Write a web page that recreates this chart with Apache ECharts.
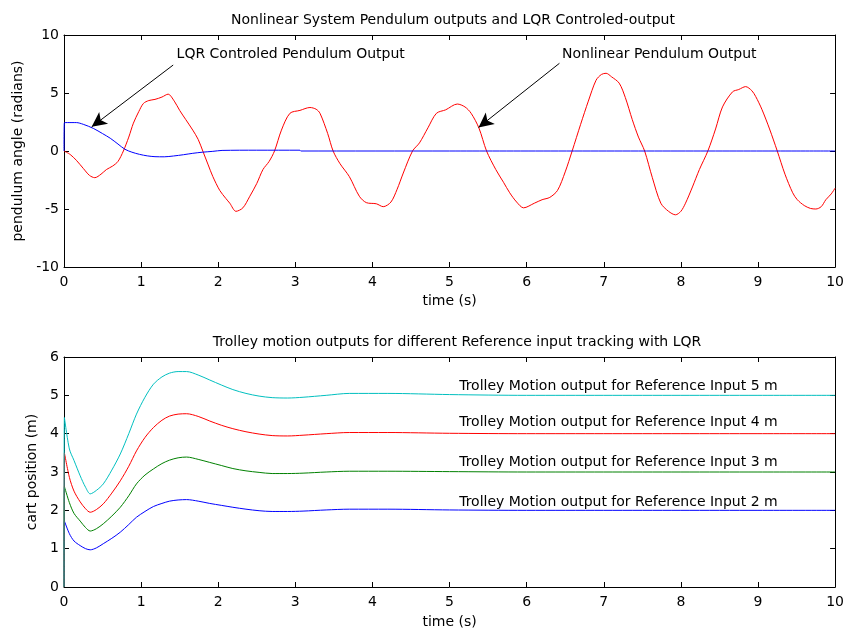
<!DOCTYPE html>
<html>
<head>
<meta charset="utf-8">
<script src="https://cdn.jsdelivr.net/npm/echarts@6/dist/echarts.min.js"></script>
<style>
html,body{margin:0;padding:0;background:#fff;}
#chart{width:847px;height:633px;}
</style>
</head>
<body>
<div id="chart"></div>
<script>
// top plot: nonlinear pendulum (red) and LQR controlled pendulum (blue)
var pendTime = [0,0.08,0.16,0.25,0.33,0.40,0.48,0.55,0.63,0.70,0.77,0.84,0.90,0.97,1.03,1.10,1.18,1.27,1.35,1.43,
	1.50,1.58,1.67,1.74,1.80,1.87,1.93,2.02,2.10,2.15,2.23,2.32,2.41,2.50,2.58,2.66,2.73,2.82,2.93,3.06,
	3.19,3.27,3.32,3.42,3.49,3.58,3.70,3.83,3.92,4.05,4.14,4.24,4.32,4.40,4.52,4.61,4.72,4.83,4.95,5.10,
	5.20,5.28,5.38,5.48,5.60,5.70,5.78,5.87,5.96,6.10,6.20,6.30,6.40,6.50,6.59,6.70,6.80,6.90,6.97,7.03,
	7.10,7.20,7.28,7.37,7.45,7.53,7.63,7.74,7.84,7.93,8.00,8.06,8.15,8.24,8.35,8.45,8.54,8.67,8.75,8.84,
	8.92,8.97,9.05,9.15,9.25,9.35,9.45,9.51,9.60,9.68,9.75,9.82,9.88,9.95,10];
var nonlinearOut = [0,-0.3,-0.8,-1.5,-2.1,-2.3,-2.0,-1.6,-1.3,-0.9,0,1.2,2.4,3.4,4.1,4.35,4.45,4.65,4.9,4.3,
	3.5,2.7,1.8,1.0,0,-1.2,-2.2,-3.4,-4.1,-4.5,-5.2,-4.9,-3.9,-2.8,-1.6,-0.9,0,1.8,3.25,3.5,
	3.75,3.6,3.25,1.5,0,-1.1,-2.2,-3.9,-4.45,-4.55,-4.8,-4.4,-3.3,-1.9,0,0.7,2.0,3.25,3.55,4.05,
	3.8,3.25,2.0,0,-1.6,-2.7,-3.6,-4.4,-4.9,-4.5,-4.2,-4.0,-3.4,-1.8,0,2.3,4.3,6.1,6.6,6.7,
	6.4,5.85,4.6,2.7,1.2,0,-2.3,-4.5,-5.2,-5.5,-5.2,-4.5,-3.1,-1.6,0,1.9,3.8,5.1,5.3,5.55,
	5.2,4.7,3.6,1.9,0,-2.0,-3.6,-4.2,-4.7,-4.95,-5.0,-4.8,-4.2,-3.7,-3.2];
var lqrTime = [0,0.005,0.16,0.25,0.38,0.50,0.60,0.70,0.79,0.88,0.98,1.08,1.18,1.30,1.42,1.55,1.67,1.80,1.93,2.05,2.50,3.06,3.07,5,10];
var lqrOut  = [0,2.45,2.45,2.3,1.95,1.5,1.1,0.6,0.15,-0.1,-0.29,-0.42,-0.49,-0.5,-0.43,-0.32,-0.2,-0.1,-0.03,0.05,0.07,0.07,0,0,0];

// bottom plot: trolley position for reference inputs 2..5 m
var cartTime = [0,0.005,0.07,0.13,0.21,0.28,0.34,0.42,0.51,0.62,0.73,0.84,0.94,1.05,1.16,1.27,1.37,1.48,1.59,1.74,
	1.89,2.04,2.19,2.36,2.53,2.70,2.90,3.10,3.40,3.70,4.20,5,6,7,8,9,10];
var cart2m = [0,1.72,1.39,1.2,1.08,1.0,0.97,1.02,1.13,1.27,1.43,1.63,1.82,1.97,2.1,2.18,2.24,2.27,2.28,2.24,
	2.18,2.13,2.08,2.03,1.99,1.97,1.97,1.98,2.01,2.03,2.03,2.01,2.0,2.0,2.0,2.0,2.0];
var cart3m = [0,2.62,2.2,1.92,1.72,1.55,1.46,1.52,1.65,1.85,2.08,2.38,2.69,2.92,3.08,3.22,3.31,3.37,3.39,3.33,
	3.25,3.17,3.09,3.03,2.99,2.96,2.96,2.97,3.0,3.02,3.02,3.01,3.0,3.0,3.0,3.0,3.0];
var cart4m = [0,3.5,2.86,2.5,2.22,2.04,1.95,2.02,2.17,2.45,2.77,3.15,3.55,3.9,4.16,4.35,4.46,4.51,4.52,4.45,
	4.33,4.22,4.13,4.05,3.99,3.95,3.94,3.96,4.0,4.03,4.03,4.01,4.0,4.0,4.0,4.0,4.0];
var cart5m = [0,4.42,3.6,3.3,2.9,2.6,2.43,2.52,2.69,3.05,3.47,4.0,4.51,4.95,5.29,5.48,5.58,5.62,5.62,5.53,
	5.4,5.27,5.15,5.05,4.98,4.94,4.93,4.95,5.0,5.05,5.05,5.02,5.0,5.0,5.0,5.0,5.0];

var cartLabels = ["Trolley Motion output for Reference Input 2 m","Trolley Motion output for Reference Input 3 m",
	"Trolley Motion output for Reference Input 4 m","Trolley Motion output for Reference Input 5 m"];
var cartLabelPos = [[7.19,2.21],[7.19,3.25],[7.19,4.29],[7.19,5.24]];

var FONT = "DejaVu Sans";

function pairs(xs, ys)
{
	var out = [];
	for(var i=0;i<xs.length;i++) out.push([xs[i], ys[i]]);
	return out;
}

function xAx(grid, pos, labels, name, gap)
{
	return {
		type:"value", gridIndex:grid, position:pos, min:0, max:10, interval:1,
		name: name || "", nameLocation:"middle", nameGap:gap || 28,
		nameTextStyle:{fontFamily:FONT, fontSize:14, color:"#000"},
		axisLine:{show:true, onZero:false, lineStyle:{color:"#000", width:1}},
		axisTick:{show:true, inside:true, length:5, lineStyle:{color:"#000"}},
		axisLabel:{show:labels, fontFamily:FONT, fontSize:14, color:"#000", margin:8},
		splitLine:{show:false}
	};
}
function yAx(grid, pos, labels, mn, mx, step, name, gap)
{
	return {
		type:"value", gridIndex:grid, position:pos, min:mn, max:mx, interval:step,
		name: name || "", nameLocation:"middle", nameGap:gap || 40,
		nameTextStyle:{fontFamily:FONT, fontSize:14, color:"#000"},
		axisLine:{show:true, onZero:false, lineStyle:{color:"#000", width:1}},
		axisTick:{show:true, inside:true, length:5, lineStyle:{color:"#000"}},
		axisLabel:{show:labels, fontFamily:FONT, fontSize:14, color:"#000", margin:5},
		splitLine:{show:false}
	};
}

function arrow(from, to)
{
	return {
		silent:true, symbol:["none","arrow"], symbolSize:[11,15],
		lineStyle:{color:"#000", width:1, type:"solid"},
		label:{show:false},
		data:[[{coord:from},{coord:to}]]
	};
}
function note(pos, text)
{
	return {
		silent:true, symbol:"circle", symbolSize:0,
		label:{show:true, position:"inside", formatter:text, fontFamily:FONT, fontSize:14, color:"#000"},
		data:[{coord:pos}]
	};
}

var chart = echarts.init(document.getElementById("chart"));
var cartColors = ["#0000ff","#008000","#ff0000","#00bfbf"];
var cartData = [cart2m, cart3m, cart4m, cart5m];

var series = [
	{
		type:"line", name:"Nonlinear", xAxisIndex:0, yAxisIndex:0, data:pairs(pendTime, nonlinearOut),
		showSymbol:false, smooth:0.3, lineStyle:{color:"#ff0000", width:1}, itemStyle:{color:"#ff0000"},
		markLine:arrow([6.425,7.56],[5.376,2.03]),
		markPoint:note([7.72,8.36],"Nonlinear Pendulum Output")
	},
	{
		type:"line", name:"LQR", xAxisIndex:0, yAxisIndex:0, data:pairs(lqrTime, lqrOut),
		showSymbol:false, smooth:0.3, lineStyle:{color:"#0000ff", width:1}, itemStyle:{color:"#0000ff"},
		markLine:arrow([1.416,7.41],[0.359,2.08]),
		markPoint:note([2.94,8.36],"LQR Controled Pendulum Output")
	}
];
for(var k=0;k<cartData.length;k++)
{
	series.push({
		type:"line", xAxisIndex:2, yAxisIndex:2, data:pairs(cartTime, cartData[k]),
		showSymbol:false, smooth:0.3, lineStyle:{color:cartColors[k], width:1}, itemStyle:{color:cartColors[k]},
		markPoint:note(cartLabelPos[k], cartLabels[k])
	});
}

chart.setOption({
	animation:false,
	backgroundColor:"#fff",
	title:[
		{text:"Nonlinear System Pendulum outputs and LQR Controled-output", left:448, top:8, textAlign:"center",
			textStyle:{fontFamily:FONT, fontSize:14, fontWeight:"normal", color:"#000"}},
		{text:"Trolley motion outputs for different Reference input tracking with LQR", left:452, top:330, textAlign:"center",
			textStyle:{fontFamily:FONT, fontSize:14, fontWeight:"normal", color:"#000"}}
	],
	grid:[
		{left:64, top:35, width:772, height:232},
		{left:64, top:357, width:772, height:230}
	],
	xAxis:[
		xAx(0,"bottom",true,"time (s)",27),
		xAx(0,"top",false),
		xAx(1,"bottom",true,"time (s)",28),
		xAx(1,"top",false)
	],
	yAxis:[
		yAx(0,"left",true,-10,10,5,"pendulum angle (radians)",38),
		yAx(0,"right",false,-10,10,5),
		yAx(1,"left",true,0,6,1,"cart position (m)",24),
		yAx(1,"right",false,0,6,1)
	],
	series:series
});
</script>
</body>
</html>
